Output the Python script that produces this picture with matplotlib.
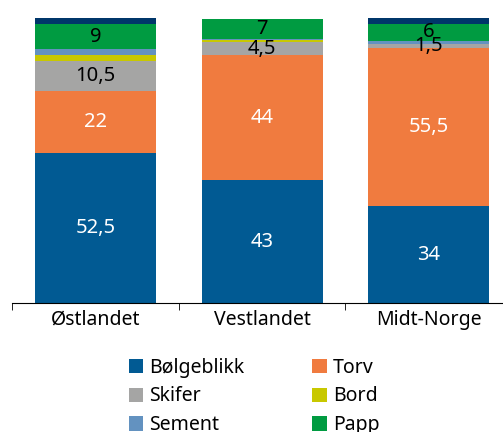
import numpy as np
import matplotlib.pyplot as plt

plt.rcParams['font.family'] = ['Noto Sans', 'DejaVu Sans']

regions = ['Østlandet', 'Vestlandet', 'Midt-Norge']
series = ['Bølgeblikk', 'Torv', 'Skifer', 'Bord', 'Sement', 'Papp', 'Annet']
bolgeblikk = [52.5, 43, 34]
torv = [22, 44, 55.5]
skifer = [10.5, 4.5, 1.5]
bord = [2, 0.8, 0]
sement = [2, 0.5, 1]
papp = [9, 7, 6]
annet = [2, 0, 2]
values = [bolgeblikk, torv, skifer, bord, sement, papp, annet]
colors = ['#015a93', '#f07b3f', '#a5a5a4', '#c8c800', '#6392c0', '#009b41', '#00366a']
labelled = {'Bølgeblikk': 'white', 'Torv': 'white', 'Skifer': 'black', 'Papp': 'black'}


def fmt(v):
    s = ('%g' % v).replace('.', ',')
    return s


fig = plt.figure(figsize=(5.03, 4.32), dpi=100)
ax = fig.add_axes([12 / 503, 129 / 432, 500 / 503, 285 / 432])

x = np.arange(len(regions))
bottom = np.zeros(len(regions))
handles = []
for name, vals, col in zip(series, values, colors):
    bars = ax.bar(x, vals, 0.726, bottom=bottom, color=col, label=name)
    handles.append(bars)
    if name in labelled:
        ax.bar_label(bars, labels=[fmt(v) for v in vals], label_type='center',
                     color=labelled[name], fontsize=14.5)
    bottom += np.array(vals)

ax.set_xlim(-0.5, 2.5)
ax.set_ylim(0, 100)
for s in ['left', 'right', 'top']:
    ax.spines[s].set_visible(False)
ax.spines['bottom'].set_color('black')
ax.set_yticks([])
ax.set_xticks(x)
ax.set_xticklabels(regions, fontsize=14)
ax.tick_params(axis='x', which='major', length=0, pad=5)
ax.set_xticks([-0.5, 0.5, 1.5, 2.5], minor=True)
ax.tick_params(axis='x', which='minor', length=5, direction='out')

order = [0, 2, 4, 6, 1, 3, 5]
fig.legend([handles[i] for i in order], [series[i] for i in order],
           loc='upper left', bbox_to_anchor=(119 / 503, 1 - 348 / 432),
           ncol=2, frameon=False, fontsize=14, handlelength=0.75, handleheight=0.75,
           handletextpad=0.3, columnspacing=3.5, labelspacing=0.45, borderpad=0)

fig.savefig('out.png', dpi=100)
